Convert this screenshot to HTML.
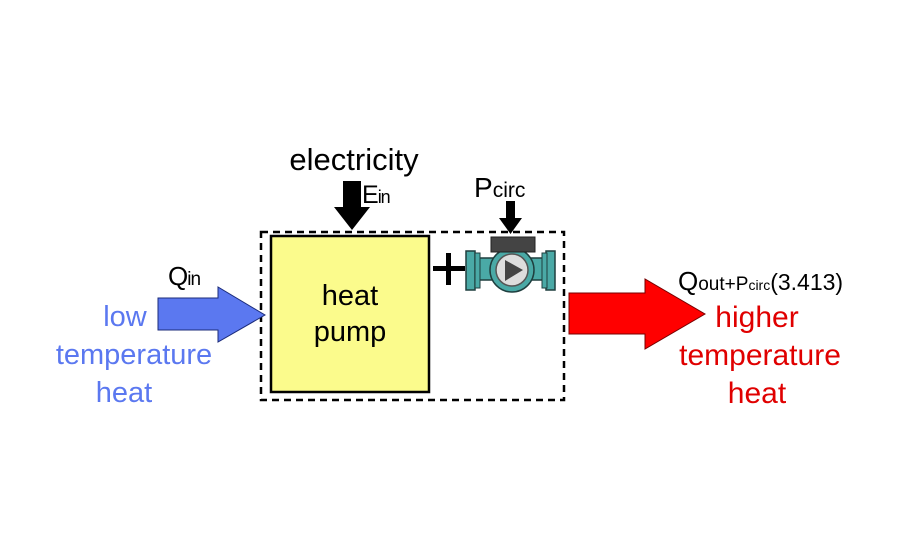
<!DOCTYPE html>
<html><head><meta charset="utf-8"><style>
html,body{margin:0;padding:0;background:#fff;}
svg{display:block;}
text{font-family:"Liberation Sans",sans-serif;}
</style></head><body>
<svg width="900" height="550" viewBox="0 0 900 550">
<rect x="261" y="232" width="303" height="168" fill="none" stroke="#000" stroke-width="2.5" stroke-dasharray="7,5"/>
<rect x="271" y="236" width="158" height="156" fill="#fbfb8c" stroke="#000" stroke-width="2.5"/>
<text x="350" y="305" font-size="29" text-anchor="middle">heat</text>
<text x="350" y="341" font-size="29" text-anchor="middle">pump</text>
<text x="354" y="170" font-size="31" text-anchor="middle">electricity</text>
<polygon points="343,181 361,181 361,207 370,207 352,230 334,207 343,207" fill="#000"/>
<text x="362" y="203" font-size="25" letter-spacing="-1">E<tspan font-size="18">in</tspan></text>
<text x="474" y="197" font-size="28">P<tspan font-size="21">circ</tspan></text>
<polygon points="506,201 515,201 515,218 522,218 510.5,234 499,218 506,218" fill="#000"/>
<!-- plus -->
<rect x="433" y="266" width="32" height="5" fill="#000"/>
<rect x="446" y="253" width="5" height="32" fill="#000"/>
<!-- pump -->
<rect x="476" y="258" width="70" height="22" fill="#4aa9a6" stroke="#1f3f3f" stroke-width="1.5"/>
<rect x="466" y="251" width="9" height="39" fill="#4aa9a6" stroke="#1f3f3f" stroke-width="1.5"/>
<rect x="475" y="253" width="5" height="35" fill="#4aa9a6" stroke="#1f3f3f" stroke-width="1"/>
<rect x="546" y="251" width="9" height="39" fill="#4aa9a6" stroke="#1f3f3f" stroke-width="1.5"/>
<rect x="542" y="253" width="5" height="35" fill="#4aa9a6" stroke="#1f3f3f" stroke-width="1"/>
<circle cx="512" cy="270" r="22" fill="#4aa9a6" stroke="#1f3f3f" stroke-width="1.5"/>
<circle cx="512" cy="270" r="16" fill="#ddd" stroke="#555" stroke-width="1.5"/>
<polygon points="505,260 523,270 505,281" fill="#444"/>
<rect x="491" y="237" width="44" height="15" fill="#444" stroke="#222"/>
<!-- blue arrow -->
<polygon points="158,298 218,298 218,287 265,315 218,342 218,330 158,330" fill="#5b78f0" stroke="#1b2b7a" stroke-width="1"/>
<text x="168" y="285" font-size="26" letter-spacing="-1">Q<tspan font-size="19">in</tspan></text>
<g fill="#5b78f0" font-size="29" text-anchor="middle">
<text x="125" y="326">low</text>
<text x="134" y="364">temperature</text>
<text x="124" y="402">heat</text>
</g>
<!-- red arrow -->
<polygon points="569,293 645,293 645,279 705,314 645,349 645,334 569,334" fill="#ff0000" stroke="#700" stroke-width="1"/>
<text x="678" y="290" font-size="26">Q<tspan font-size="19">out+</tspan><tspan font-size="19">P</tspan><tspan font-size="14">circ</tspan><tspan font-size="23">(3.413)</tspan></text>
<g fill="#e00000" font-size="30" text-anchor="middle">
<text x="757" y="327">higher</text>
<text x="760" y="365">temperature</text>
<text x="757" y="403">heat</text>
</g>
</svg>
</body></html>
